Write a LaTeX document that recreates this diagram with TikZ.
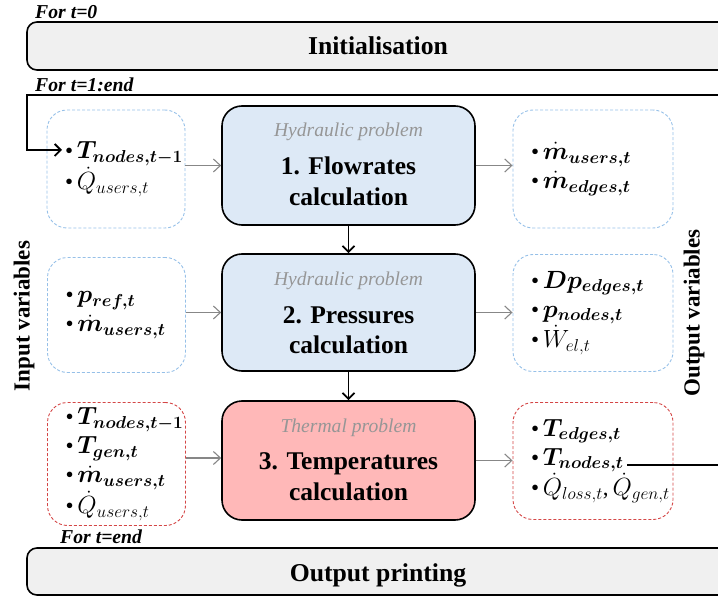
\documentclass[tikz,border=0pt]{standalone}
\usepackage{amsmath}
\usepackage{bm}
\usepackage{fontspec}
\setmainfont{Liberation Serif}
\usetikzlibrary{arrows.meta}

\definecolor{hydfill}{RGB}{221,233,246}
\definecolor{thfill}{RGB}{255,184,184}
\definecolor{stagefill}{RGB}{240,240,240}
\definecolor{hyddash}{RGB}{150,192,232}
\definecolor{thdash}{RGB}{212,70,70}
\definecolor{flowgrey}{RGB}{135,135,135}
\definecolor{subgrey}{RGB}{150,150,150}

\begin{document}
\begin{tikzpicture}[x=1pt,y=-1pt,
  stagebox/.style={draw=black, line width=1.6pt, fill=stagefill,
    rounded corners=10pt, inner sep=0pt},
  stagetitle/.style={font=\fontsize{25.7}{30}\selectfont\bfseries, anchor=base},
  looplabel/.style={font=\fontsize{19.7}{24}\selectfont\bfseries\itshape,
    anchor=base west, inner sep=0pt},
  calcbox/.style={draw=black, line width=1.6pt, rounded corners=20pt,
    minimum width=253pt, inner sep=0pt},
  calctitle/.style={font=\fontsize{25.5}{30}\selectfont\bfseries, anchor=base,
    inner sep=0pt},
  problem/.style={font=\fontsize{19.6}{24}\selectfont\itshape, text=subgrey,
    anchor=base, inner sep=0pt},
  varbox/.style={dash pattern=on 3pt off 2pt, line width=0.9pt,
    rounded corners=20pt, inner xsep=18pt, inner ysep=0pt, align=left,
    font=\fontsize{23}{29}\selectfont},
  hydvars/.style={varbox, draw=hyddash},
  thvars/.style={varbox, draw=thdash},
  sidelabel/.style={font=\fontsize{23}{28}\selectfont\bfseries, rotate=90,
    inner sep=0pt},
  feed/.style={draw=flowgrey, line width=1.1pt,
    -{Straight Barb[length=7pt, width=13pt, line width=1.1pt]}},
  nextstep/.style={draw=black, line width=1.8pt,
    -{Straight Barb[length=6pt, width=12pt, line width=1.8pt]}},
]
\useasboundingbox (0,0) rectangle (718,599);
\clip (0,0) rectangle (718,599);

% ---- initialisation and final printing stages
\node[looplabel] (lab0) at (35,19) {For t=0};
\node[stagebox, minimum width=702pt, minimum height=48pt] (init) at (378,46) {};
\node[stagetitle] (inittxt) at (378,55) {Initialisation};

\node[looplabel] (lab1) at (35,92) {For t=1:end};

\node[looplabel] (labend) at (60,543) {For t=end};
\node[stagebox, minimum width=702pt, minimum height=47pt] (print) at (378,571.5) {};
\node[stagetitle] (printtxt) at (378,581) {Output printing};

% ---- calculation steps
\node[calcbox, fill=hydfill, minimum height=119pt] (c1) at (348.5,165.5) {};
\node[problem] (c1p) at (348.5,137) {Hydraulic problem};
\node[calctitle] (c1a) at (348.5,175) {1. Flowrates};
\node[calctitle] (c1b) at (348.5,205) {calculation};

\node[calcbox, fill=hydfill, minimum height=117pt] (c2) at (348.5,312.5) {};
\node[problem] (c2p) at (348.5,285) {Hydraulic problem};
\node[calctitle] (c2a) at (348.5,323) {2. Pressures};
\node[calctitle] (c2b) at (348.5,353) {calculation};

\node[calcbox, fill=thfill, minimum height=119pt] (c3) at (348.5,460.5) {};
\node[problem] (c3p) at (348.5,432) {Thermal problem};
\node[calctitle] (c3a) at (348.5,469.5) {3. Temperatures};
\node[calctitle] (c3b) at (348.5,500) {calculation};

% ---- input variables
\node[hydvars, text width=102pt, minimum height=118pt] (in1) at (116,169)
  {\textbullet\,$\bm{T_{nodes,t-1}}$\\
   \textbullet\,$\dot{Q}_{users,t}$};
\node[hydvars, text width=102pt, minimum height=115pt] (in2) at (116.5,315)
  {\textbullet\,$\bm{p_{ref,t}}$\\
   \textbullet\,$\dot{\bm{m}}_{\bm{users,t}}$};
\node[thvars, text width=102pt, minimum height=123pt] (in3) at (116.5,464)
  {\textbullet\,$\bm{T_{nodes,t-1}}$\\
   \textbullet\,$\bm{T_{gen,t}}$\\
   \textbullet\,$\dot{\bm{m}}_{\bm{users,t}}$\\
   \textbullet\,$\dot{Q}_{users,t}$};

% ---- output variables
\node[hydvars, text width=124pt, minimum height=118pt] (out1) at (593,169)
  {\textbullet\,$\dot{\bm{m}}_{\bm{users,t}}$\\
   \textbullet\,$\dot{\bm{m}}_{\bm{edges,t}}$};
\node[hydvars, text width=124pt, minimum height=117pt] (out2) at (593,313)
  {\textbullet\,$\bm{Dp_{edges,t}}$\\
   \textbullet\,$\bm{p_{nodes,t}}$\\
   \textbullet\,$\dot{W}_{el,t}$};
\node[thvars, text width=124pt, minimum height=117pt] (out3) at (593,461)
  {\textbullet\,$\bm{T_{edges,t}}$\\
   \textbullet\,$\bm{T_{nodes,t}}$\\
   \mbox{\textbullet\,$\dot{Q}_{loss,t}$,\,$\dot{Q}_{gen,t}$}};

% ---- side captions
\node[sidelabel] (inlab) at (24,316) {Input variables};
\node[sidelabel] (outlab) at (694,313) {Output variables};

% ---- data flow
\draw[feed] (c1.west -| in1.east) -- (c1.west);
\draw[feed] (c2.west -| in2.east) -- (c2.west);
\coordinate (in3out) at (in3.east |- 0,458);
\draw[feed] (in3out) -- (in3out -| c3.west);
\draw[feed] (c1.east) -- (c1.east -| out1.west);
\draw[feed] (c2.east) -- (c2.east -| out2.west);
\draw[feed] (c3.east) -- (c3.east -| out3.west);

\draw[nextstep] (c1.south) -- (c2.north);
\draw[nextstep] (c2.south) -- (c3.north);

% ---- time loop: node temperatures fed back to the next step
\coordinate (tnodes) at (627,465);
\coordinate (tprev) at (62,150);
\draw[nextstep] (tnodes) -- (740,465) -- (740,95) -- (27,95) -- (27,150) -- (tprev);
\end{tikzpicture}
\end{document}
